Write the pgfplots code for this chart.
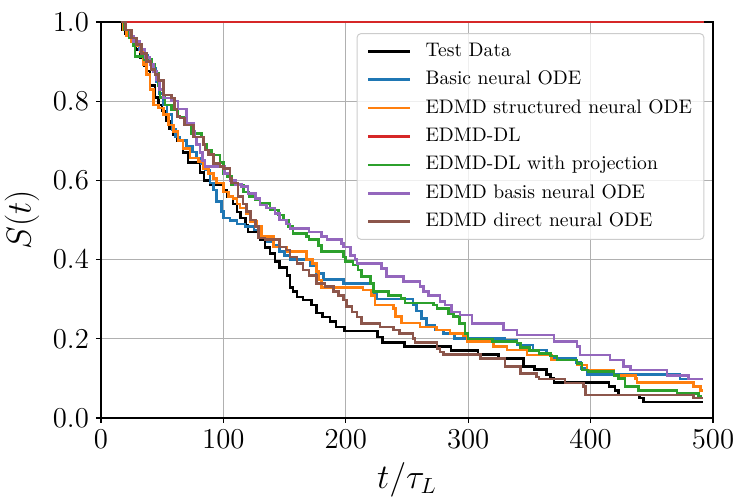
\documentclass[border=0pt]{standalone}
\usepackage{pgfplots}
\pgfplotsset{compat=1.18}
\definecolor{tabblue}{HTML}{1F77B4}
\definecolor{taborange}{HTML}{FF7F0E}
\definecolor{tabgreen}{HTML}{2CA02C}
\definecolor{tabred}{HTML}{D62728}
\definecolor{tabpurple}{HTML}{9467BD}
\definecolor{tabbrown}{HTML}{8C564B}
\definecolor{gridgray}{HTML}{B0B0B0}
\definecolor{leggray}{HTML}{CCCCCC}
\begin{document}
\begin{tikzpicture}
\useasboundingbox (-50.5pt,-39.5pt) rectangle (317.5pt,209pt);
\begin{axis}[
  at={(0,0)}, anchor=south west,
  scale only axis, width=306pt, height=198pt,
  xmin=0, xmax=500, ymin=0, ymax=1.0,
  xtick={0,100,200,300,400,500},
  ytick={0,0.2,0.4,0.6,0.8,1.0},
  yticklabel style={/pgf/number format/.cd, fixed, fixed zerofill, precision=1},
  xticklabel style={/pgf/number format/.cd, fixed},
  tick label style={font=\fontsize{14.8}{17}\selectfont},
  label style={font=\fontsize{16}{19}\selectfont},
  xlabel={$t/\tau_L$}, ylabel={$S(t)$},
  tick align=outside, tick pos=left,
  major tick length=2.5pt,
  every tick/.style={black, line width=0.6pt},
  axis line style={line width=0.6pt},
  grid=major, grid style={gridgray, line width=0.6pt},
  every axis plot/.append style={line width=1.3pt, const plot, mark=none},
  legend image code/.code={\draw[#1] (0pt,0pt) -- (21pt,0pt); \path (27pt,0pt);},
  legend cell align=left,
  legend style={at={(0.986,0.972)}, anchor=north east,
    font=\fontsize{9.8}{11.8}\selectfont,
    draw=leggray, rounded corners=2pt, line width=0.5pt,
    fill=white, fill opacity=0.8, text opacity=1, draw opacity=1,
    inner xsep=5pt, inner ysep=3.15pt, row sep=2.8pt,
    nodes={inner sep=1pt, text height=0.72em, text depth=0.22em}},
]
% Test Data
\addplot[black] coordinates {(0,1)(17,0.98)(20,0.97)(25,0.955)(28,0.93)(32,0.91)(35,0.89)(37,0.876)(40,0.84)(44,0.81)(47,0.79)(50,0.775)(53,0.75)(56,0.73)(59,0.715)(62,0.70)(67,0.67)(71,0.645)(81,0.62)(84,0.60)(89,0.59)(100,0.575)(103,0.56)(108,0.54)(111,0.52)(114,0.505)(118,0.487)(120,0.47)(130,0.45)(134,0.43)(138,0.415)(142,0.395)(146,0.38)(152,0.36)(154.5,0.33)(157,0.32)(160,0.306)(165,0.298)(172,0.285)(176,0.265)(181,0.255)(187,0.243)(192,0.23)(199,0.22)(226,0.205)(230,0.19)(248,0.18)(286,0.17)(308,0.16)(325,0.15)(345,0.13)(354,0.123)(364,0.11)(367,0.1)(370,0.09)(415,0.08)(420,0.07)(423,0.058)(440,0.05)(443,0.04)(492,0.04)};
\addlegendentry{Test Data}
% Basic neural ODE
\addplot[tabblue] coordinates {(16,1)(18,0.98)(22,0.965)(27,0.95)(31,0.93)(35,0.915)(38,0.9)(41,0.884)(45,0.85)(48,0.82)(51,0.79)(54,0.766)(58,0.728)(61,0.71)(64.6,0.70)(70,0.687)(75,0.672)(78,0.657)(82,0.643)(85,0.626)(89,0.593)(91.7,0.576)(94.6,0.546)(98.6,0.521)(100,0.505)(105.4,0.498)(111,0.49)(117.7,0.483)(125,0.475)(130,0.47)(131,0.458)(136,0.445)(141,0.437)(146,0.42)(150,0.41)(154.5,0.40)(171,0.385)(176,0.365)(181.7,0.35)(198,0.34)(222.6,0.315)(225,0.30)(255,0.285)(258,0.27)(262,0.252)(266,0.235)(273,0.222)(280,0.214)(289,0.201)(330,0.197)(340,0.184)(353,0.172)(364,0.159)(368,0.15)(388,0.14)(392,0.125)(397,0.11)(473,0.098)(492,0.098)};
\addlegendentry{Basic neural ODE}
% EDMD structured neural ODE
\addplot[taborange] coordinates {(16,1)(18,0.98)(21,0.965)(25,0.95)(29,0.94)(32,0.926)(34.6,0.892)(37,0.867)(40,0.83)(42.7,0.79)(47,0.783)(51,0.766)(55,0.74)(59,0.724)(63,0.70)(67,0.68)(72.7,0.657)(79.5,0.647)(83.6,0.63)(87.7,0.618)(92,0.605)(94.6,0.593)(100,0.571)(104,0.56)(108,0.555)(111,0.54)(113.6,0.53)(119,0.517)(121.8,0.496)(127,0.483)(131,0.458)(141,0.432)(152,0.42)(168,0.40)(173,0.39)(176,0.37)(177.6,0.348)(180,0.33)(214,0.323)(221,0.31)(224,0.285)(239,0.277)(240.5,0.256)(245.7,0.24)(260.7,0.23)(274,0.222)(285,0.214)(296,0.207)(299,0.193)(320.7,0.18)(331.6,0.172)(348,0.159)(368,0.146)(389,0.134)(397,0.121)(419,0.108)(436.5,0.1)(438,0.089)(484,0.08)(490,0.07)(492,0.07)};
\addlegendentry{EDMD structured neural ODE}
% EDMD-DL
\addplot[tabred] coordinates {(16,1)(492.5,1)};
\addlegendentry{EDMD-DL}
% EDMD-DL with projection
\addplot[tabgreen] coordinates {(16,1)(19,0.98)(23,0.96)(26.4,0.94)(27.8,0.913)(35,0.905)(41.4,0.892)(44,0.87)(47,0.84)(48.2,0.81)(52.3,0.79)(57.8,0.778)(63,0.76)(68.7,0.744)(74,0.719)(82.3,0.71)(83.6,0.69)(86.4,0.677)(90.5,0.664)(97.3,0.645)(100,0.618)(103,0.61)(106.8,0.588)(116.3,0.571)(121,0.56)(125.9,0.55)(130,0.542)(138,0.525)(145,0.513)(149,0.5)(153,0.483)(157,0.466)(168,0.458)(170,0.45)(177.6,0.435)(180,0.42)(198,0.407)(200,0.395)(206,0.386)(210,0.374)(213,0.357)(220,0.34)(222.6,0.319)(235,0.31)(245,0.302)(248.5,0.29)(271.6,0.285)(274.4,0.277)(284,0.264)(288,0.256)(293,0.239)(297.5,0.214)(300,0.199)(320,0.193)(340,0.189)(342.5,0.178)(350,0.17)(358,0.163)(367,0.157)(372.5,0.146)(389,0.138)(393,0.121)(398,0.117)(419,0.108)(423,0.10)(428,0.079)(439,0.07)(470.5,0.062)(488,0.055)(490,0.05)(492,0.05)};
\addlegendentry{EDMD-DL with projection}
% EDMD basis neural ODE
\addplot[tabpurple] coordinates {(16,1)(20,0.98)(24,0.965)(26.4,0.95)(32,0.93)(36,0.91)(40,0.892)(43,0.875)(45.5,0.854)(48,0.83)(51,0.808)(57.8,0.8)(63,0.78)(70,0.745)(75.5,0.724)(76.8,0.71)(78,0.69)(81,0.67)(83,0.65)(85,0.635)(101,0.618)(105.4,0.60)(110,0.59)(115,0.584)(120,0.567)(126,0.555)(130,0.538)(135,0.53)(142,0.517)(146,0.50)(151.8,0.49)(154.5,0.479)(170,0.47)(180,0.458)(184.5,0.45)(196.7,0.44)(198,0.432)(204,0.41)(207.6,0.40)(209,0.39)(229.4,0.378)(233.5,0.357)(247,0.344)(260.7,0.332)(263.5,0.319)(267.5,0.31)(277,0.294)(281,0.285)(286.6,0.268)(293.4,0.26)(303,0.239)(329,0.222)(340,0.21)(370,0.193)(389,0.18)(391.5,0.159)(416,0.146)(427,0.13)(432.4,0.121)(462.3,0.108)(480,0.098)(492,0.098)};
\addlegendentry{EDMD basis neural ODE}
% EDMD direct neural ODE
\addplot[tabbrown] coordinates {(16,1)(20,0.98)(25,0.96)(29,0.943)(33,0.92)(37,0.9)(41,0.88)(44,0.867)(47,0.853)(51,0.816)(57.8,0.808)(60,0.78)(62,0.761)(64.6,0.758)(68,0.74)(75.5,0.71)(83.6,0.69)(85,0.677)(88,0.665)(91.8,0.643)(97.3,0.635)(100,0.63)(105.4,0.605)(106.8,0.593)(112,0.56)(116,0.54)(119,0.521)(122,0.5)(126,0.483)(128.6,0.455)(134,0.45)(146,0.432)(151,0.424)(154.5,0.407)(160,0.39)(165,0.374)(170,0.36)(176,0.34)(183,0.332)(190,0.32)(194,0.31)(198,0.298)(200.8,0.281)(205,0.268)(209,0.255)(213,0.239)(228,0.23)(239,0.222)(244,0.214)(255,0.201)(256.6,0.19)(274.4,0.176)(277,0.167)(280,0.16)(310,0.15)(330,0.13)(342.5,0.113)(356,0.104)(358,0.098)(379,0.088)(394,0.079)(395.6,0.058)(484,0.05)(492,0.05)};
\addlegendentry{EDMD direct neural ODE}
\end{axis}
\end{tikzpicture}
\end{document}
